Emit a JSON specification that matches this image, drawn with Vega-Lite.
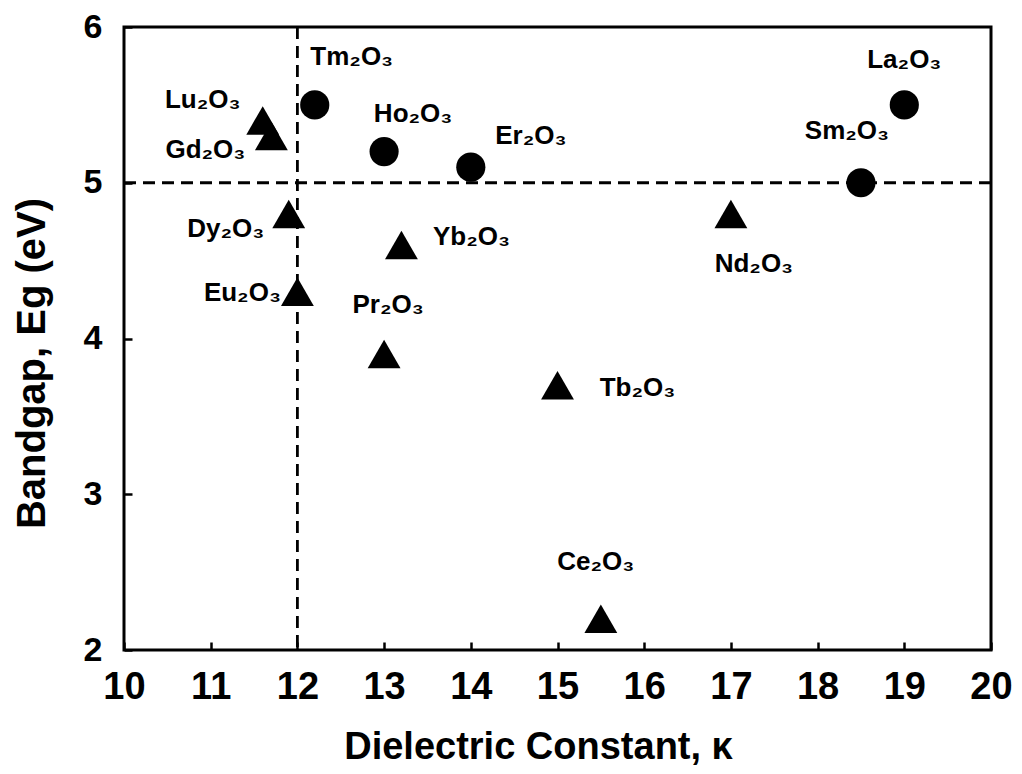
{
  "$schema": "https://vega.github.io/schema/vega-lite/v6.json",
  "width": 867,
  "height": 623,
  "autosize": "none",
  "padding": {"left": 124, "top": 27, "right": 31, "bottom": 124},
  "background": "white",
  "config": {
    "font": "Liberation Sans",
    "view": {"stroke": "black", "strokeWidth": 3},
    "text": {"font": "Liberation Sans", "fontSize": 26, "fontWeight": "bold", "align": "center", "baseline": "middle", "color": "black"},
    "axis": {"grid": false, "domain": false, "ticks": true, "tickColor": "black", "tickWidth": 2.5, "labelFlush": false, "labelOverlap": false, "labelColor": "black", "titleColor": "black", "labelFont": "Liberation Sans", "titleFont": "Liberation Sans", "labelFontWeight": "bold", "titleFontWeight": "bold", "zindex": 2}
  },
  "datasets": {
    "oxides": [
      {"name": "Tm2O3", "label": "Tm₂O₃", "kappa": 12.2, "eg": 5.5, "group": "circle"},
      {"name": "Ho2O3", "label": "Ho₂O₃", "kappa": 13.0, "eg": 5.2, "group": "circle"},
      {"name": "Er2O3", "label": "Er₂O₃", "kappa": 14.0, "eg": 5.1, "group": "circle"},
      {"name": "Sm2O3", "label": "Sm₂O₃", "kappa": 18.5, "eg": 5.0, "group": "circle"},
      {"name": "La2O3", "label": "La₂O₃", "kappa": 19.0, "eg": 5.5, "group": "circle"},
      {"name": "Lu2O3", "label": "Lu₂O₃", "kappa": 11.6, "eg": 5.4, "group": "triangle"},
      {"name": "Gd2O3", "label": "Gd₂O₃", "kappa": 11.7, "eg": 5.3, "group": "triangle"},
      {"name": "Dy2O3", "label": "Dy₂O₃", "kappa": 11.9, "eg": 4.8, "group": "triangle"},
      {"name": "Eu2O3", "label": "Eu₂O₃", "kappa": 12.0, "eg": 4.3, "group": "triangle"},
      {"name": "Yb2O3", "label": "Yb₂O₃", "kappa": 13.2, "eg": 4.6, "group": "triangle"},
      {"name": "Pr2O3", "label": "Pr₂O₃", "kappa": 13.0, "eg": 3.9, "group": "triangle"},
      {"name": "Tb2O3", "label": "Tb₂O₃", "kappa": 15.0, "eg": 3.7, "group": "triangle"},
      {"name": "Nd2O3", "label": "Nd₂O₃", "kappa": 17.0, "eg": 4.8, "group": "triangle"},
      {"name": "Ce2O3", "label": "Ce₂O₃", "kappa": 15.5, "eg": 2.2, "group": "triangle"}
    ],
    "refs": [{"kappa_ref": 12, "eg_ref": 5}],
    "xticks": [{"kappa_tick": 11}, {"kappa_tick": 12}, {"kappa_tick": 13}, {"kappa_tick": 14}, {"kappa_tick": 15}, {"kappa_tick": 16}, {"kappa_tick": 17}, {"kappa_tick": 18}, {"kappa_tick": 19}],
    "yticks": [{"eg_tick": 3}, {"eg_tick": 4}, {"eg_tick": 5}]
  },
  "data": {"name": "oxides"},
  "encoding": {
    "x": {"field": "kappa", "type": "quantitative",
      "scale": {"domain": [10, 20], "nice": false, "zero": false},
      "axis": {"values": [10, 11, 12, 13, 14, 15, 16, 17, 18, 19, 20], "tickSize": -8, "labelFontSize": 38, "labelPadding": 26, "title": "Dielectric Constant, κ", "titleFontSize": 38, "titlePadding": 22, "titleX": 414}},
    "y": {"field": "eg", "type": "quantitative",
      "scale": {"domain": [2, 6], "nice": false, "zero": false},
      "axis": {"values": [2, 3, 4, 5, 6], "tickSize": -8, "labelFontSize": 34, "labelPadding": 30, "title": "Bandgap, Eg (eV)", "titleFontSize": 40, "titleX": -72, "titleY": 336}}
  },
  "layer": [
    {"data": {"name": "refs"}, "mark": {"type": "rule", "color": "black", "strokeWidth": 2.8, "strokeDash": [12, 7]}, "encoding": {"x": {"field": "kappa_ref", "type": "quantitative"}, "y": null}},
    {"data": {"name": "refs"}, "mark": {"type": "rule", "color": "black", "strokeWidth": 2.8, "strokeDash": [12, 7]}, "encoding": {"y": {"field": "eg_ref", "type": "quantitative"}, "x": null}},
    {"data": {"name": "xticks"}, "mark": {"type": "tick", "orient": "vertical", "size": 16, "thickness": 2.5, "color": "black", "opacity": 1, "clip": true}, "encoding": {"x": {"field": "kappa_tick", "type": "quantitative"}, "y": {"datum": 2, "type": "quantitative"}}},
    {"data": {"name": "yticks"}, "mark": {"type": "tick", "orient": "horizontal", "size": 16, "thickness": 2.5, "color": "black", "opacity": 1, "clip": true}, "encoding": {"y": {"field": "eg_tick", "type": "quantitative"}, "x": {"datum": 10, "type": "quantitative"}}},
    {"mark": {"type": "point", "filled": true, "color": "black", "opacity": 1},
      "encoding": {
        "shape": {"field": "group", "type": "nominal", "scale": {"domain": ["circle", "triangle"], "range": ["circle", "triangle-up"]}, "legend": null},
        "size": {"field": "group", "type": "nominal", "scale": {"domain": ["circle", "triangle"], "range": [850, 1080]}, "legend": null}
      }},
    {"transform": [{"filter": "datum.name === 'Tm2O3'"}], "mark": {"type": "text", "dx": 37, "dy": -48}, "encoding": {"text": {"field": "label"}}},
    {"transform": [{"filter": "datum.name === 'Ho2O3'"}], "mark": {"type": "text", "dx": 29, "dy": -38}, "encoding": {"text": {"field": "label"}}},
    {"transform": [{"filter": "datum.name === 'Er2O3'"}], "mark": {"type": "text", "dx": 60, "dy": -31}, "encoding": {"text": {"field": "label"}}},
    {"transform": [{"filter": "datum.name === 'Yb2O3'"}], "mark": {"type": "text", "dx": 70, "dy": -8}, "encoding": {"text": {"field": "label"}}},
    {"transform": [{"filter": "datum.name === 'La2O3'"}], "mark": {"type": "text", "dx": 0, "dy": -45}, "encoding": {"text": {"field": "label"}}},
    {"transform": [{"filter": "datum.name === 'Sm2O3'"}], "mark": {"type": "text", "dx": -14, "dy": -52}, "encoding": {"text": {"field": "label"}}},
    {"transform": [{"filter": "datum.name === 'Lu2O3'"}], "mark": {"type": "text", "dx": -60, "dy": -20}, "encoding": {"text": {"field": "label"}}},
    {"transform": [{"filter": "datum.name === 'Gd2O3'"}], "mark": {"type": "text", "dx": -66, "dy": 14}, "encoding": {"text": {"field": "label"}}},
    {"transform": [{"filter": "datum.name === 'Dy2O3'"}], "mark": {"type": "text", "dx": -63, "dy": 15}, "encoding": {"text": {"field": "label"}}},
    {"transform": [{"filter": "datum.name === 'Eu2O3'"}], "mark": {"type": "text", "dx": -55, "dy": 1}, "encoding": {"text": {"field": "label"}}},
    {"transform": [{"filter": "datum.name === 'Tb2O3'"}], "mark": {"type": "text", "dx": 80, "dy": 3}, "encoding": {"text": {"field": "label"}}},
    {"transform": [{"filter": "datum.name === 'Nd2O3'"}], "mark": {"type": "text", "dx": 23, "dy": 50}, "encoding": {"text": {"field": "label"}}},
    {"transform": [{"filter": "datum.name === 'Pr2O3'"}], "mark": {"type": "text", "dx": 4, "dy": -49}, "encoding": {"text": {"field": "label"}}},
    {"transform": [{"filter": "datum.name === 'Ce2O3'"}], "mark": {"type": "text", "dx": -5, "dy": -57}, "encoding": {"text": {"field": "label"}}}
  ]
}
